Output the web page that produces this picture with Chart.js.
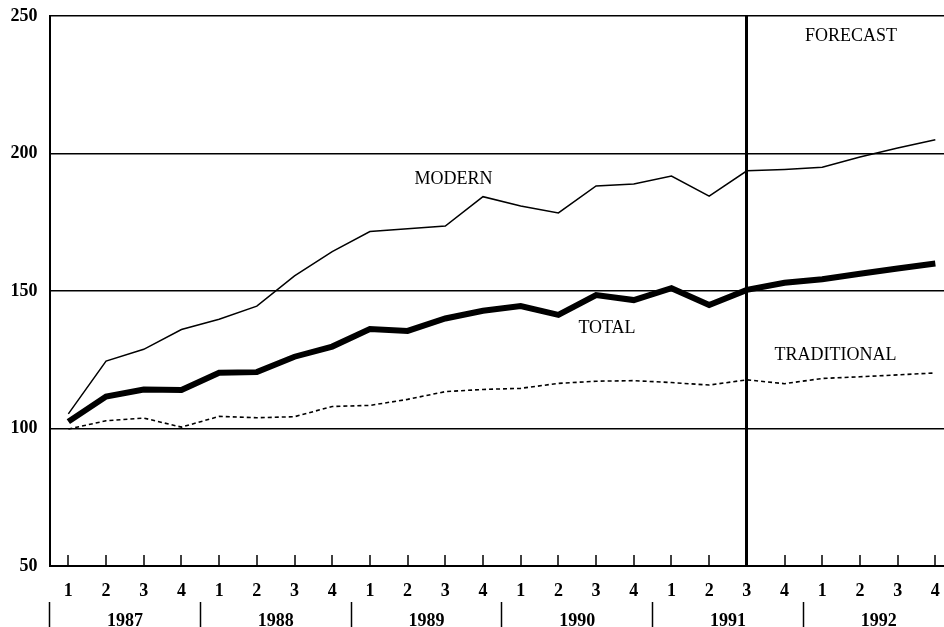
<!DOCTYPE html>
<html>
<head>
<meta charset="utf-8">
<script src="https://cdn.jsdelivr.net/npm/chart.js@4"></script>
<style>
  html, body { margin: 0; padding: 0; background: #fff; overflow: hidden; }
  #wrap { width: 944px; height: 627px; position: relative; }
</style>
</head>
<body>
<div id="wrap"><canvas id="chart"></canvas></div>
<script>
const quarters = ['1','2','3','4','1','2','3','4','1','2','3','4','1','2','3','4','1','2','3','4','1','2','3','4'];
const years = ['1987', '1988', '1989', '1990', '1991', '1992'];

const totalValues = [102.5, 111.6, 114.2, 114, 120.3, 120.5, 126.1, 129.8, 136.2, 135.5, 140, 142.8,
  144.5, 141.3, 148.5, 146.7, 151, 144.9, 150.4, 153, 154.3, 156.3, 158.2, 160];
const modernValues = [105.3, 124.5, 128.8, 136, 139.7, 144.5, 155.5, 164.3, 171.6, 172.6, 173.6, 184.3,
  180.9, 178.4, 188.2, 188.9, 191.8, 184.5, 193.7, 194.2, 195, 198.7, 202, 205];
const traditionalValues = [99.8, 102.8, 103.8, 100.5, 104.4, 103.9, 104.3, 108, 108.4, 110.6, 113.4, 114.2,
  114.6, 116.4, 117.2, 117.4, 116.7, 115.8, 117.7, 116.3, 118.2, 118.8, 119.5, 120.2];

const forecastIndex = 18;

// text placed in data coordinates (x = quarter index)
const chartNotes = [
  { text: 'MODERN', x: 10.22, y: 190.6 },
  { text: 'TOTAL', x: 14.29, y: 136.5 },
  { text: 'TRADITIONAL', x: 20.35, y: 126.7 },
  { text: 'FORECAST', x: 20.76, y: 242.7 }
];

const serif = '"Liberation Serif", "Times New Roman", serif';

// quarter index -> point
const toPoints = arr => arr.map((v, i) => ({ x: i, y: v }));

const notesPlugin = {
  id: 'notes',
  afterDatasetsDraw(chart) {
    const ctx = chart.ctx;
    const xs = chart.scales.x;
    const ys = chart.scales.y;
    ctx.save();
    ctx.font = '18px ' + serif;
    ctx.fillStyle = '#000';
    ctx.textAlign = 'center';
    ctx.textBaseline = 'middle';
    chartNotes.forEach(n => {
      ctx.fillText(n.text, xs.getPixelForValue(n.x), ys.getPixelForValue(n.y));
    });
    ctx.restore();
  }
};

const ctxChart = document.getElementById('chart');

const config = {
  type: 'line',
  data: {
    datasets: [{
      label: 'TOTAL',
      data: toPoints(totalValues),
      borderColor: '#000',
      borderWidth: 6,
      pointRadius: 0,
      tension: 0
    }, {
      label: 'MODERN',
      data: toPoints(modernValues),
      borderColor: '#000',
      borderWidth: 1.5,
      pointRadius: 0,
      tension: 0
    }, {
      label: 'TRADITIONAL',
      data: toPoints(traditionalValues),
      borderColor: '#000',
      borderWidth: 1.6,
      borderDash: [4, 3],
      pointRadius: 0,
      tension: 0
    }]
  },
  plugins: [notesPlugin],
  options: {
    responsive: true,
    maintainAspectRatio: false,
    animation: false,
    layout: { padding: { top: 16, right: 0, left: 0, bottom: 0 } },
    plugins: {
      legend: { display: false },
      tooltip: { enabled: false }
    },
    scales: {
      x: {
        type: 'linear',
        position: 'bottom',
        min: -0.5,
        max: 23.23,   // plot runs off the right edge
        border: { display: true, color: '#000', width: 2 },
        afterBuildTicks: s => { s.ticks = quarters.map((q, i) => ({ value: i })); },
        grid: {
          drawOnChartArea: true,
          color: c => c.index === forecastIndex ? '#000' : 'rgba(0,0,0,0)',
          lineWidth: c => c.index === forecastIndex ? 3 : 0,
          tickColor: '#000',
          tickWidth: 1.5,
          tickLength: -11
        },
        ticks: {
          color: '#000',
          font: { family: serif, size: 18, weight: 'bold' },
          padding: 26,
          maxRotation: 0,
          autoSkip: false,
          callback: (v, i) => quarters[i]
        },
        afterFit: s => { s.height = 36; s.paddingLeft = 0; s.paddingRight = 0; }
      },
      x2: {
        type: 'linear',
        position: 'bottom',
        min: -0.5,
        max: 23.23,
        border: { display: false },
        afterBuildTicks: s => { s.ticks = years.map((y, i) => ({ value: i * 4 - 0.5 })); },
        grid: {
          drawOnChartArea: false,
          tickColor: '#000',
          tickWidth: 1.5,
          tickLength: 25
        },
        ticks: {
          color: '#000',
          font: { family: serif, size: 18, weight: 'bold' },
          padding: -16,
          labelOffset: 75.4,
          maxRotation: 0,
          autoSkip: false,
          callback: (v, i) => years[i]
        },
        afterFit: s => { s.height = 25; s.paddingLeft = 0; s.paddingRight = 0; }
      },
      y: {
        min: 50,
        max: 250,
        border: { display: true, color: '#000', width: 2 },
        grid: {
          color: '#000',
          lineWidth: 1.5,
          drawTicks: true,
          tickLength: 12,
          tickColor: 'rgba(0,0,0,0)'
        },
        ticks: {
          stepSize: 50,
          color: '#000',
          padding: 0,
          font: { family: serif, size: 18, weight: 'bold' }
        },
        afterFit: s => { s.width = 49.5; }
      }
    }
  }
};

const lineChart = new Chart(ctxChart, config);
</script>
</body>
</html>
